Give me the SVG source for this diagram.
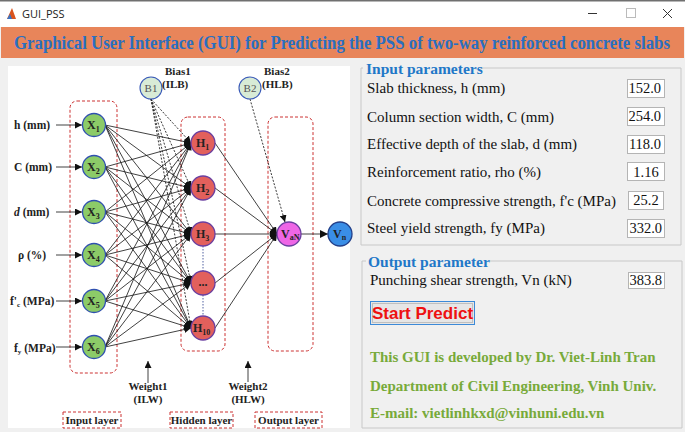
<svg xmlns="http://www.w3.org/2000/svg" width="685" height="432" viewBox="0 0 685 432">
<style>
.ui{font-family:"Open Sans","Noto Sans",sans-serif;font-size:11px;fill:#222}
.tl{font-family:"Liberation Serif",serif;font-weight:bold;font-size:11px;fill:#222}
.il{font-family:"Liberation Serif",serif;font-weight:bold;font-size:11.5px;fill:#222}
.nd{font-family:"Liberation Serif",serif;font-weight:bold;font-size:12px;fill:#222}
.lb{font-family:"Liberation Serif",serif;font-size:15px;fill:#111}
.gt{font-family:"Liberation Serif",serif;font-weight:bold;font-size:15.5px;fill:#1f78c8}
.val{font-family:"Liberation Serif",serif;font-size:14.5px;fill:#111}
.gr{font-family:"Liberation Serif",serif;font-weight:bold;font-size:15px;fill:#78aa3a}
.box{fill:none;stroke:#cc3333;stroke-width:1;stroke-dasharray:3 2}
.vb{fill:#fff;stroke:#b4b4b4;stroke-width:1}
.grp{fill:none;stroke:#c8c8c8;stroke-width:1}
.w{stroke:#111;stroke-width:0.8;fill:none}
.bd{stroke:#222;stroke-width:0.9;fill:none;stroke-dasharray:2 1.5}
.xin{fill:#8ccb68;stroke:#2f4fb0;stroke-width:1.3}
.hid{fill:#e2605c;stroke:#6a3fa0;stroke-width:1.3}
.bias{fill:#d8ebd6;stroke:#3a5ab8;stroke-width:1.1}
</style>
<defs>
<marker id="ah" viewBox="0 0 10 10" refX="10" refY="5" markerWidth="7" markerHeight="7" markerUnits="userSpaceOnUse" orient="auto"><path d="M0,0 L10,5 L0,10 z" fill="#111"/></marker>
<marker id="ah2" viewBox="0 0 10 10" refX="10" refY="5" markerWidth="8" markerHeight="8" markerUnits="userSpaceOnUse" orient="auto"><path d="M0,0 L10,5 L0,10 z" fill="#111"/></marker>
</defs>
<rect x="0" y="0" width="685" height="432" fill="#f0f0f0"/>
<rect x="0" y="0" width="685" height="27" fill="#ffffff"/>
<rect x="0" y="0" width="685" height="1.5" fill="#707070"/>
<g id="titlebar">
<path d="M7,19 L12,8 L16,19 z" fill="#d9541e"/><path d="M7,19 L10,14 L12,19 z" fill="#3a74c4"/>
<text class="ui" x="22" y="18">GUI_PSS</text>
<line x1="588" y1="13.5" x2="597" y2="13.5" stroke="#333" stroke-width="1"/>
<rect x="626.5" y="8.5" width="9" height="9" fill="none" stroke="#bbb"/>
<path d="M663,9 L672,18 M672,9 L663,18" stroke="#333" stroke-width="1"/>
</g>
<g id="banner">
<rect x="1" y="27" width="683" height="31" fill="#e8855a"/>
<text transform="translate(342,49) scale(0.82,1)" x="0" y="0" text-anchor="middle" textLength="800" lengthAdjust="spacingAndGlyphs" style="font-family:'Liberation Serif',serif;font-weight:bold;font-size:19px;fill:#2a6fc0">Graphical User Interface (GUI) for Predicting the PSS of two-way reinforced concrete slabs</text>
</g>
<rect x="8" y="66" width="342" height="362" fill="#ffffff"/>
<g id="layer-boxes">
<rect class="box" x="70" y="101" width="47" height="272" rx="7"/>
<rect class="box" x="181" y="117" width="44" height="234" rx="7"/>
<rect class="box" x="268" y="117" width="45" height="234" rx="7"/>
</g>
<g id="connectors">
<line class="w" x1="56" y1="125" x2="82" y2="125" marker-end="url(#ah)"/>
<line class="w" x1="56" y1="167" x2="82" y2="167" marker-end="url(#ah)"/>
<line class="w" x1="56" y1="212" x2="82" y2="212" marker-end="url(#ah)"/>
<line class="w" x1="56" y1="255" x2="82" y2="255" marker-end="url(#ah)"/>
<line class="w" x1="56" y1="301" x2="82" y2="301" marker-end="url(#ah)"/>
<line class="w" x1="56" y1="347" x2="82" y2="347" marker-end="url(#ah)"/>
<g marker-end="url(#ah)">
<line class="w" x1="105" y1="125" x2="191" y2="143"/><line class="w" x1="105" y1="125" x2="191" y2="188"/><line class="w" x1="105" y1="125" x2="191" y2="234"/><line class="w" x1="105" y1="125" x2="191" y2="283"/><line class="w" x1="105" y1="125" x2="191" y2="328"/>
<line class="w" x1="105" y1="167" x2="191" y2="143"/><line class="w" x1="105" y1="167" x2="191" y2="188"/><line class="w" x1="105" y1="167" x2="191" y2="234"/><line class="w" x1="105" y1="167" x2="191" y2="283"/><line class="w" x1="105" y1="167" x2="191" y2="328"/>
<line class="w" x1="105" y1="212" x2="191" y2="143"/><line class="w" x1="105" y1="212" x2="191" y2="188"/><line class="w" x1="105" y1="212" x2="191" y2="234"/><line class="w" x1="105" y1="212" x2="191" y2="283"/><line class="w" x1="105" y1="212" x2="191" y2="328"/>
<line class="w" x1="105" y1="255" x2="191" y2="143"/><line class="w" x1="105" y1="255" x2="191" y2="188"/><line class="w" x1="105" y1="255" x2="191" y2="234"/><line class="w" x1="105" y1="255" x2="191" y2="283"/><line class="w" x1="105" y1="255" x2="191" y2="328"/>
<line class="w" x1="105" y1="301" x2="191" y2="143"/><line class="w" x1="105" y1="301" x2="191" y2="188"/><line class="w" x1="105" y1="301" x2="191" y2="234"/><line class="w" x1="105" y1="301" x2="191" y2="283"/><line class="w" x1="105" y1="301" x2="191" y2="328"/>
<line class="w" x1="105" y1="347" x2="191" y2="143"/><line class="w" x1="105" y1="347" x2="191" y2="188"/><line class="w" x1="105" y1="347" x2="191" y2="234"/><line class="w" x1="105" y1="347" x2="191" y2="283"/><line class="w" x1="105" y1="347" x2="191" y2="328"/>
<line class="bd" x1="151" y1="99" x2="191" y2="143"/><line class="bd" x1="151" y1="99" x2="191" y2="188"/><line class="bd" x1="151" y1="99" x2="191" y2="234"/><line class="bd" x1="151" y1="99" x2="191" y2="283"/><line class="bd" x1="151" y1="99" x2="191" y2="328"/>
<line class="w" x1="215" y1="143" x2="277" y2="234"/><line class="w" x1="215" y1="188" x2="277" y2="234"/><line class="w" x1="215" y1="234" x2="277" y2="234"/><line class="w" x1="215" y1="283" x2="277" y2="234"/><line class="w" x1="215" y1="328" x2="277" y2="234"/>
<line class="bd" x1="250" y1="99" x2="285" y2="222"/>
</g>
<line class="w" x1="301" y1="234" x2="328" y2="234" marker-end="url(#ah2)"/>
<line x1="203" y1="246" x2="203" y2="271" stroke="#5060a0" stroke-width="1" stroke-dasharray="1.5 1.5"/>
<line x1="203" y1="295" x2="203" y2="316" stroke="#5060a0" stroke-width="1" stroke-dasharray="1.5 1.5"/>
<line class="w" x1="148" y1="383" x2="148" y2="361" marker-end="url(#ah)"/>
<line class="w" x1="248" y1="382" x2="248" y2="361" marker-end="url(#ah)"/>
</g>
<g id="input-labels">
<text class="il" x="14" y="129">h (mm)</text>
<text class="il" x="14" y="171">C (mm)</text>
<text class="il" x="14" y="216"><tspan font-style="italic">d</tspan> (mm)</text>
<text class="il" x="18" y="259">ρ (%)</text>
<text class="il" x="10" y="305">f'<tspan font-size="7" dy="2">c</tspan><tspan dy="-2"> (MPa)</tspan></text>
<text class="il" x="14" y="352">f<tspan font-size="7" dy="2">y</tspan><tspan dy="-2"> (MPa)</tspan></text>
</g>
<g id="X1"><circle class="xin" cx="94" cy="125" r="11.5"/><text class="nd" x="87" y="129">X<tspan font-size="8" dy="3">1</tspan></text></g>
<g id="X2"><circle class="xin" cx="94" cy="167" r="11.5"/><text class="nd" x="87" y="171">X<tspan font-size="8" dy="3">2</tspan></text></g>
<g id="X3"><circle class="xin" cx="94" cy="212" r="11.5"/><text class="nd" x="87" y="216">X<tspan font-size="8" dy="3">3</tspan></text></g>
<g id="X4"><circle class="xin" cx="94" cy="255" r="11.5"/><text class="nd" x="87" y="259">X<tspan font-size="8" dy="3">4</tspan></text></g>
<g id="X5"><circle class="xin" cx="94" cy="301" r="11.5"/><text class="nd" x="87" y="305">X<tspan font-size="8" dy="3">5</tspan></text></g>
<g id="X6"><circle class="xin" cx="94" cy="347" r="11.5"/><text class="nd" x="87" y="351">X<tspan font-size="8" dy="3">6</tspan></text></g>
<g id="B1"><circle class="bias" cx="151" cy="88" r="11"/><text x="151" y="92" text-anchor="middle" style="font-family:'Liberation Serif',serif;font-size:11px;fill:#555">B1</text>
<text class="tl" x="165" y="75">Bias1</text><text class="tl" x="162" y="88">(ILB)</text></g>
<g id="B2"><circle class="bias" cx="250" cy="88" r="11"/><text x="250" y="92" text-anchor="middle" style="font-family:'Liberation Serif',serif;font-size:11px;fill:#555">B2</text>
<text class="tl" x="264" y="75">Bias2</text><text class="tl" x="262" y="88">(HLB)</text></g>
<g id="H1"><circle class="hid" cx="203" cy="143" r="12"/><text class="nd" x="196" y="147">H<tspan font-size="8" dy="3">1</tspan></text></g>
<g id="H2"><circle class="hid" cx="203" cy="188" r="12"/><text class="nd" x="196" y="192">H<tspan font-size="8" dy="3">2</tspan></text></g>
<g id="H3"><circle class="hid" cx="203" cy="234" r="12"/><text class="nd" x="196" y="238">H<tspan font-size="8" dy="3">3</tspan></text></g>
<g id="Hdots"><circle class="hid" cx="203" cy="283" r="12"/><text class="nd" x="203" y="286" text-anchor="middle">...</text></g>
<g id="H10"><circle class="hid" cx="203" cy="328" r="12"/><text class="nd" x="193" y="332">H<tspan font-size="8" dy="3">10</tspan></text></g>
<g id="VaN"><circle cx="289" cy="234" r="12" fill="#ee66e6" stroke="#6a3fa0" stroke-width="1.3"/><text class="nd" x="281" y="238">V<tspan font-size="8" dy="2">aN</tspan></text></g>
<g id="Vn"><circle cx="340" cy="234" r="12" fill="#3a8ee6" stroke="#23408a" stroke-width="1.3"/><text class="nd" x="333" y="238">V<tspan font-size="8" dy="2">n</tspan></text></g>
<g id="weight-labels">
<text class="tl" x="148" y="390" text-anchor="middle">Weight1</text><text class="tl" x="148" y="403" text-anchor="middle">(ILW)</text>
<text class="tl" x="248" y="390" text-anchor="middle">Weight2</text><text class="tl" x="248" y="403" text-anchor="middle">(HLW)</text>
</g>
<g id="layer-names">
<rect class="box" x="63" y="412" width="58" height="16"/><text class="tl" x="92" y="424" text-anchor="middle">Input layer</text>
<rect class="box" x="170" y="412" width="63" height="16"/><text class="tl" x="201.5" y="424" text-anchor="middle">Hidden layer</text>
<rect class="box" x="255" y="412" width="67" height="16"/><text class="tl" x="288.5" y="424" text-anchor="middle">Output layer</text>
</g>
<g id="input-group">
<path class="grp" d="M363,68 L361,68 L361,245 L681,245 L681,68 L480,68"/>
<text class="gt" x="366" y="74">Input parameters</text>
<text class="lb" x="367" y="93">Slab thickness, h (mm)</text><rect class="vb" x="627.5" y="79.5" width="37" height="18"/><text class="val" x="661" y="93" text-anchor="end">152.0</text>
<text class="lb" x="367" y="122">Column section width, C (mm)</text><rect class="vb" x="627.5" y="107.5" width="37" height="18"/><text class="val" x="661" y="121" text-anchor="end">254.0</text>
<text class="lb" x="367" y="149">Effective depth of the slab, d (mm)</text><rect class="vb" x="627.5" y="135.5" width="37" height="18"/><text class="val" x="661" y="149" text-anchor="end">118.0</text>
<text class="lb" x="367" y="177">Reinforcement ratio, rho (%)</text><rect class="vb" x="627.5" y="162.5" width="37" height="18"/><text class="val" x="646" y="177" text-anchor="middle">1.16</text>
<text class="lb" x="367" y="206">Concrete compressive strength, f'c (MPa)</text><rect class="vb" x="628.5" y="191.5" width="35" height="18"/><text class="val" x="646" y="205" text-anchor="middle">25.2</text>
<text class="lb" x="367" y="233">Steel yield strength, fy (MPa)</text><rect class="vb" x="627.5" y="219.5" width="37" height="18"/><text class="val" x="662" y="233" text-anchor="end">332.0</text>
</g>
<g id="output-group">
<path class="grp" d="M366,261 L362,261 L362,428 L682,428 L682,261 L490,261"/>
<text class="gt" x="368" y="267">Output parameter</text>
<text class="lb" x="370" y="285">Punching shear strength, Vn (kN)</text><rect class="vb" x="628.5" y="272.5" width="36" height="16"/><text class="val" x="662" y="285" text-anchor="end">383.8</text>
</g>
<g id="start-predict">
<rect x="370.5" y="301.5" width="104" height="23" fill="#e6e6e6" stroke="#3c8ad8" stroke-width="1"/>
<rect x="372.5" y="303.5" width="100" height="19" fill="none" stroke="#777" stroke-width="0.7" stroke-dasharray="1 1"/>
<text x="422.5" y="319" text-anchor="middle" style="font-family:'Liberation Sans',Arial,sans-serif;font-weight:bold;font-size:17px;fill:#ee1111">Start Predict</text>
</g>
<g id="credits">
<text class="gr" x="370" y="362">This GUI is developed by Dr. Viet-Linh Tran</text>
<text class="gr" x="370" y="391">Department of Civil Engineering, Vinh Univ.</text>
<text class="gr" x="370" y="418">E-mail: vietlinhkxd@vinhuni.edu.vn</text>
</g>
</svg>
